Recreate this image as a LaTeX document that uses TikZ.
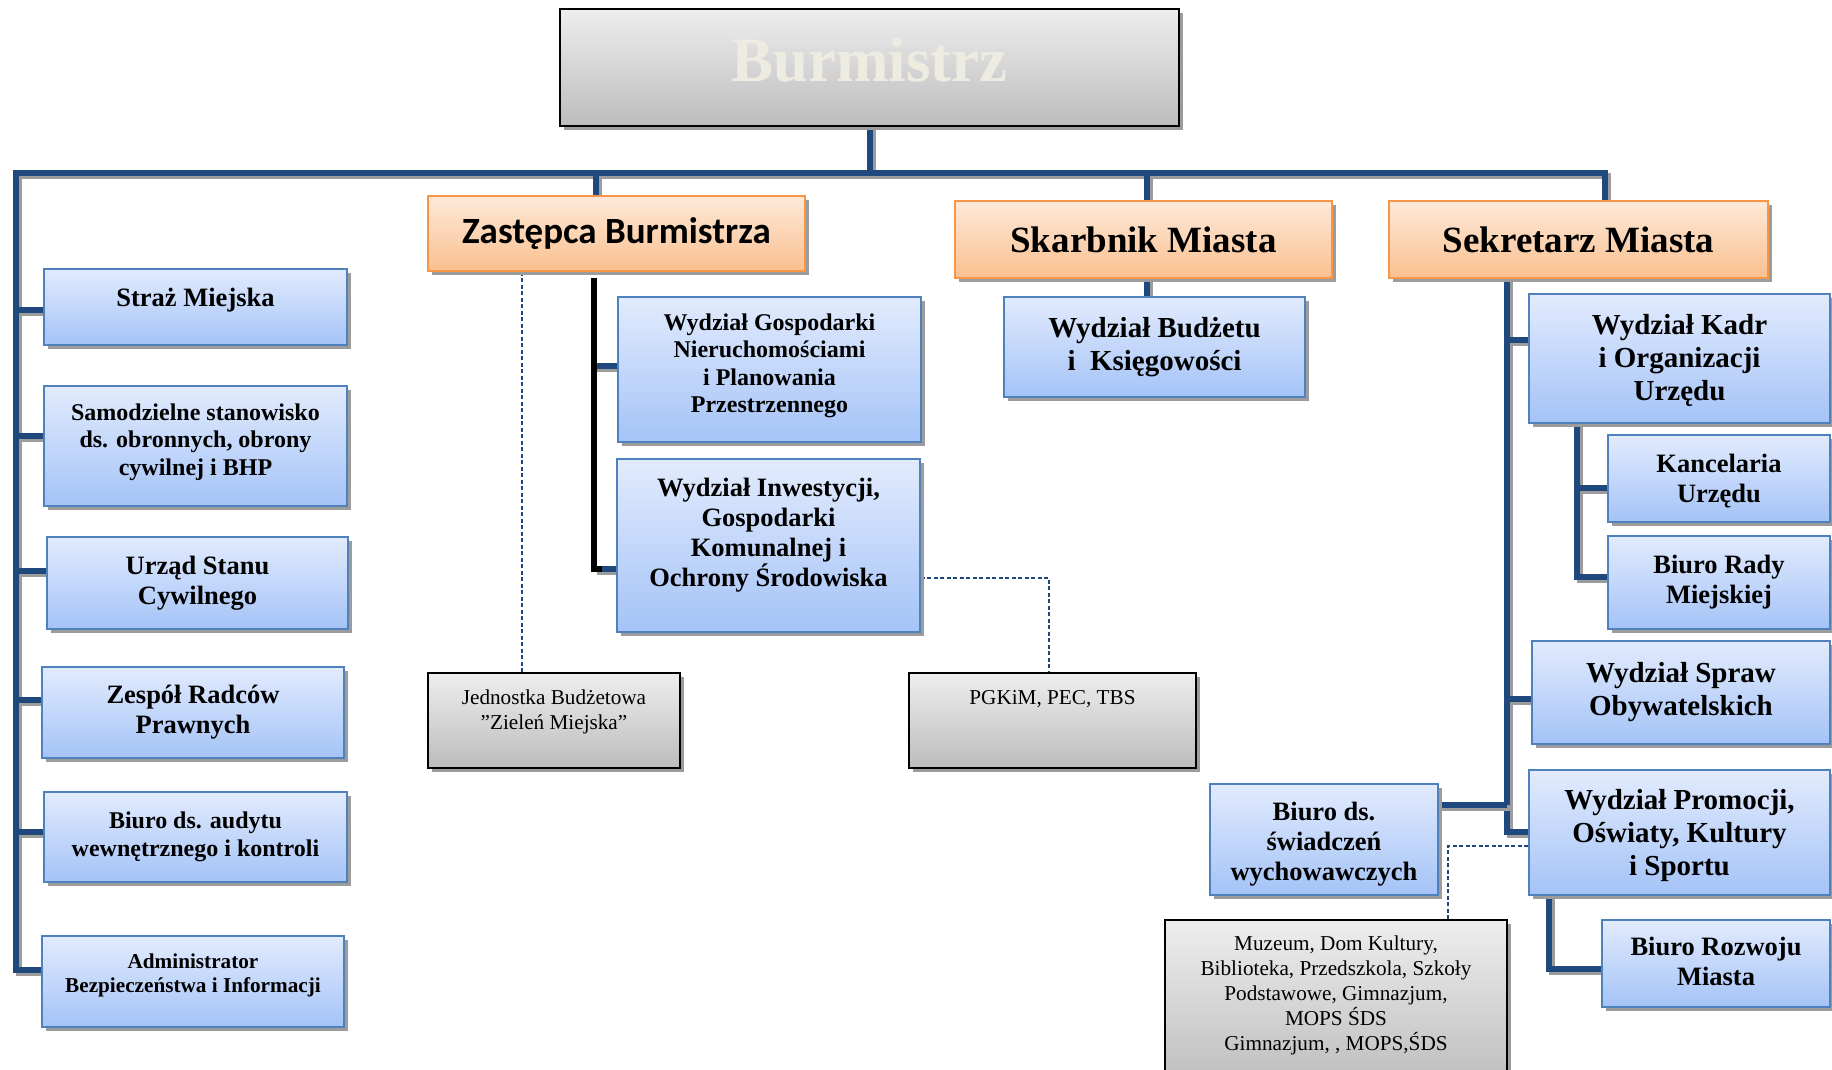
\documentclass[tikz,border=0pt]{standalone}
\usepackage{fontspec}
\setmainfont{Liberation Serif}
\newfontfamily\carlito{Carlito}
\usetikzlibrary{shadows}
\pgfdeclarelayer{bg}
\pgfsetlayers{bg,main}
\definecolor{blueTop}{HTML}{E2EBFD}
\definecolor{blueBot}{HTML}{A4C3F7}
\definecolor{blueBorder}{HTML}{4F81BD}
\definecolor{orTop}{HTML}{FDE9D9}
\definecolor{orBot}{HTML}{FAC08F}
\definecolor{orBorder}{HTML}{F79646}
\definecolor{grTop}{HTML}{EEEEEE}
\definecolor{grBot}{HTML}{BCBCBC}
\definecolor{navy}{HTML}{1F497D}
\definecolor{shadowgray}{HTML}{9C9C9C}
\definecolor{burmText}{HTML}{EEECE1}
\begin{document}
\begin{tikzpicture}[x=1pt,y=-1pt,
  box/.style={rectangle, inner sep=2pt, align=center, line width=1.5pt,
    drop shadow={shadow xshift=4pt,shadow yshift=-4pt,fill=shadowgray,opacity=1}},
  bluebox/.style={box, draw=blueBorder, top color=blueTop, bottom color=blueBot},
  orbox/.style={box, draw=orBorder, top color=orTop, bottom color=orBot},
  graybox/.style={box, draw=black, line width=2pt, top color=grTop, bottom color=grBot},
  fA/.style={font=\fontsize{26.5}{30}\selectfont\bfseries},
  fB/.style={font=\fontsize{24}{27.5}\selectfont\bfseries},
  fC/.style={font=\fontsize{21.2}{24.5}\selectfont\bfseries},
  fD/.style={font=\fontsize{29}{33}\selectfont\bfseries},
  fE/.style={font=\fontsize{37}{40}\selectfont\bfseries},
  fR/.style={font=\fontsize{21.2}{25}\selectfont, align=center},
  conn/.style={draw=navy, line width=6pt,
    preaction={draw=shadowgray, line width=6pt, transform canvas={xshift=3pt,yshift=-3pt}}},
  blk/.style={draw=black, line width=6pt},
  dsh/.style={draw=navy, line width=1.5pt, dash pattern=on 4pt off 2.5pt}
]
\useasboundingbox (0,0) rectangle (1832,1069);
\clip (0,0) rectangle (1832,1069);

% top
\node[graybox, minimum width=619pt, minimum height=117pt,
  label={[font=\fontsize{63}{66}\selectfont\bfseries, text=burmText, yshift=7pt]center:Burmistrz}] (burm) at (869.5,67.5) {};
\node[orbox, minimum width=377pt, minimum height=75pt,
  font=\carlito\fontsize{37}{40}\selectfont\bfseries] (zast) at (616.5,233.5) {Zastępca Burmistrza};
\node[orbox, minimum width=377pt, minimum height=77pt, fE] (skarb) at (1143.5,239.5) {Skarbnik Miasta};
\node[orbox, minimum width=379pt, minimum height=77pt, fE] (sekr) at (1578.5,239.5) {Sekretarz Miasta};

% left column
\node[bluebox, minimum width=303pt, minimum height=76pt,
  label={[fA, align=center, yshift=7pt]center:{Straż Miejska}}] (straz) at (195.5,307) {};
\node[bluebox, minimum width=303pt, minimum height=120pt,
  label={[fB, align=center, yshift=4pt]center:{Samodzielne stanowisko\\ds. obronnych, obrony\\cywilnej i BHP}}] (samo) at (195.5,446) {};
\node[bluebox, minimum width=301pt, minimum height=92pt, fA] (usc) at (197.5,583) {Urząd Stanu\\Cywilnego};
\node[bluebox, minimum width=302pt, minimum height=91pt, fA] (zesp) at (193,712.5) {Zespół Radców\\Prawnych};
\node[bluebox, minimum width=303pt, minimum height=90pt, fB] (audyt) at (195.5,837) {Biuro ds. audytu\\wewnętrznego i kontroli};
\node[bluebox, minimum width=302pt, minimum height=91pt,
  label={[fC, align=center, yshift=6pt]center:{Administrator\\Bezpieczeństwa i Informacji}}] (admin) at (193,981.5) {};

% Zastepca children
\node[bluebox, minimum width=303pt, minimum height=145pt,
  label={[fB, align=center, yshift=3.5pt]center:{Wydział Gospodarki\\Nieruchomościami\\i Planowania\\Przestrzennego}}] (wgn) at (769.5,369.5) {};
\node[bluebox, minimum width=303pt, minimum height=173pt,
  label={[fA, align=center, yshift=10.5pt]center:{Wydział Inwestycji,\\Gospodarki\\Komunalnej i\\Ochrony Środowiska}}] (wi) at (768.5,545.5) {};
\node[graybox, minimum width=252pt, minimum height=95pt,
  label={[fR, anchor=north, yshift=-14pt]north:{Jednostka Budżetowa\\”Zieleń Miejska”}}] (jb) at (554,720.5) {};
\node[graybox, minimum width=287pt, minimum height=95pt,
  label={[fR, anchor=north, yshift=-15pt]north:{PGKiM, PEC, TBS}}] (pgk) at (1052.5,720.5) {};

% Skarbnik child
\node[bluebox, minimum width=301pt, minimum height=100pt, fD] (wb) at (1154.5,347) {Wydział Budżetu\\i~~Księgowości};

% Sekretarz children
\node[bluebox, minimum width=301pt, minimum height=129pt,
  label={[fD, align=center, yshift=-2pt]center:{Wydział Kadr\\i Organizacji\\Urzędu}}] (kadr) at (1679.5,358.5) {};
\node[bluebox, minimum width=222pt, minimum height=87pt,
  label={[fA, align=center, yshift=-2.5pt]center:{Kancelaria\\Urzędu}}] (kanc) at (1719,478.5) {};
\node[bluebox, minimum width=222pt, minimum height=93pt, fA] (rady) at (1719,582.5) {Biuro Rady\\Miejskiej};
\node[bluebox, minimum width=298pt, minimum height=103pt, fD] (spraw) at (1681,692.5) {Wydział Spraw\\Obywatelskich};
\node[bluebox, minimum width=301pt, minimum height=125pt,
  label={[fD, align=center, yshift=-3.5pt]center:{Wydział Promocji,\\Oświaty, Kultury\\i Sportu}}] (prom) at (1679.5,832.5) {};
\node[bluebox, minimum width=228pt, minimum height=111pt,
  label={[fA, align=center, yshift=-5pt]center:{Biuro ds.\\świadczeń\\wychowawczych}}] (swiad) at (1324,839.5) {};
\node[graybox, minimum width=342pt, minimum height=170pt,
  label={[fR, anchor=north, yshift=-13pt]north:{Muzeum, Dom Kultury,\\Biblioteka, Przedszkola, Szkoły\\Podstawowe, Gimnazjum,\\MOPS ŚDS\\Gimnazjum, , MOPS,ŚDS}}] (muz) at (1336,1005) {};
\node[bluebox, minimum width=228pt, minimum height=87pt,
  label={[fA, align=center, yshift=2pt]center:{Biuro Rozwoju\\Miasta}}] (rozw) at (1716,963.5) {};

\begin{pgfonlayer}{bg}
% main bus
\coordinate (bL) at (16,173);
\coordinate (bR) at (1605,173);
\coordinate (dZ) at (596,173);
\coordinate (dS) at (1147,173);
\draw[conn] (burm.south) -- (burm.south |- bL);
\draw[conn, line join=miter] (admin.west |- 0,970) -- (16,970) -- (bL) -- (bR) -- (sekr.north -| bR);
\draw[conn] (dZ) -- (zast.north -| dZ);
\draw[conn] (dS) -- (skarb.north -| dS);
\draw[conn] (skarb.south -| dS) -- (wb.north -| dS);
% left stubs
\foreach \n/\yy in {straz/310, samo/436, usc/571, zesp/700, audyt/832}
  \draw[conn] (16,\yy) -- (\n.west |- 0,\yy);
% Zastepca branch
\coordinate (zv) at (594,569);
\draw[conn] (zv) -- (wi.west |- zv);
\draw[conn] (zv |- 0,366) -- (wgn.west |- 0,366);
\draw[blk, line join=miter] (zast.south -| zv) ++(0,6) -- (zv) -- ++(8,0);
% Sekretarz branch
\coordinate (sv) at (1507,832);
\draw[conn, line join=miter] (sekr.south -| sv) -- (sv) -- (prom.west |- sv);
\draw[conn] (sv |- 0,340) -- (kadr.west |- 0,340);
\draw[conn] (sv |- 0,699) -- (spraw.west |- 0,699);
\draw[conn] (swiad.east |- 0,805) -- (sv |- 0,805);
\coordinate (kv) at (1577,577);
\draw[conn, line join=miter] (kadr.south -| kv) -- (kv) -- (rady.west |- kv);
\draw[conn] (kv |- 0,488) -- (kanc.west |- 0,488);
\coordinate (pv) at (1549,969);
\draw[conn, line join=miter] (prom.south -| pv) -- (pv) -- (rozw.west |- pv);
% dashed
\coordinate (j1) at (522,0);
\coordinate (p1) at (1049,578);
\coordinate (m1) at (1448,846);
\draw[dsh] (zast.south -| j1) -- (jb.north -| j1);
\draw[dsh] (wi.east |- p1) -- (p1) -- (pgk.north -| p1);
\draw[dsh] (prom.west |- m1) -- (m1) -- (muz.north -| m1);
\end{pgfonlayer}
\end{tikzpicture}
\end{document}
